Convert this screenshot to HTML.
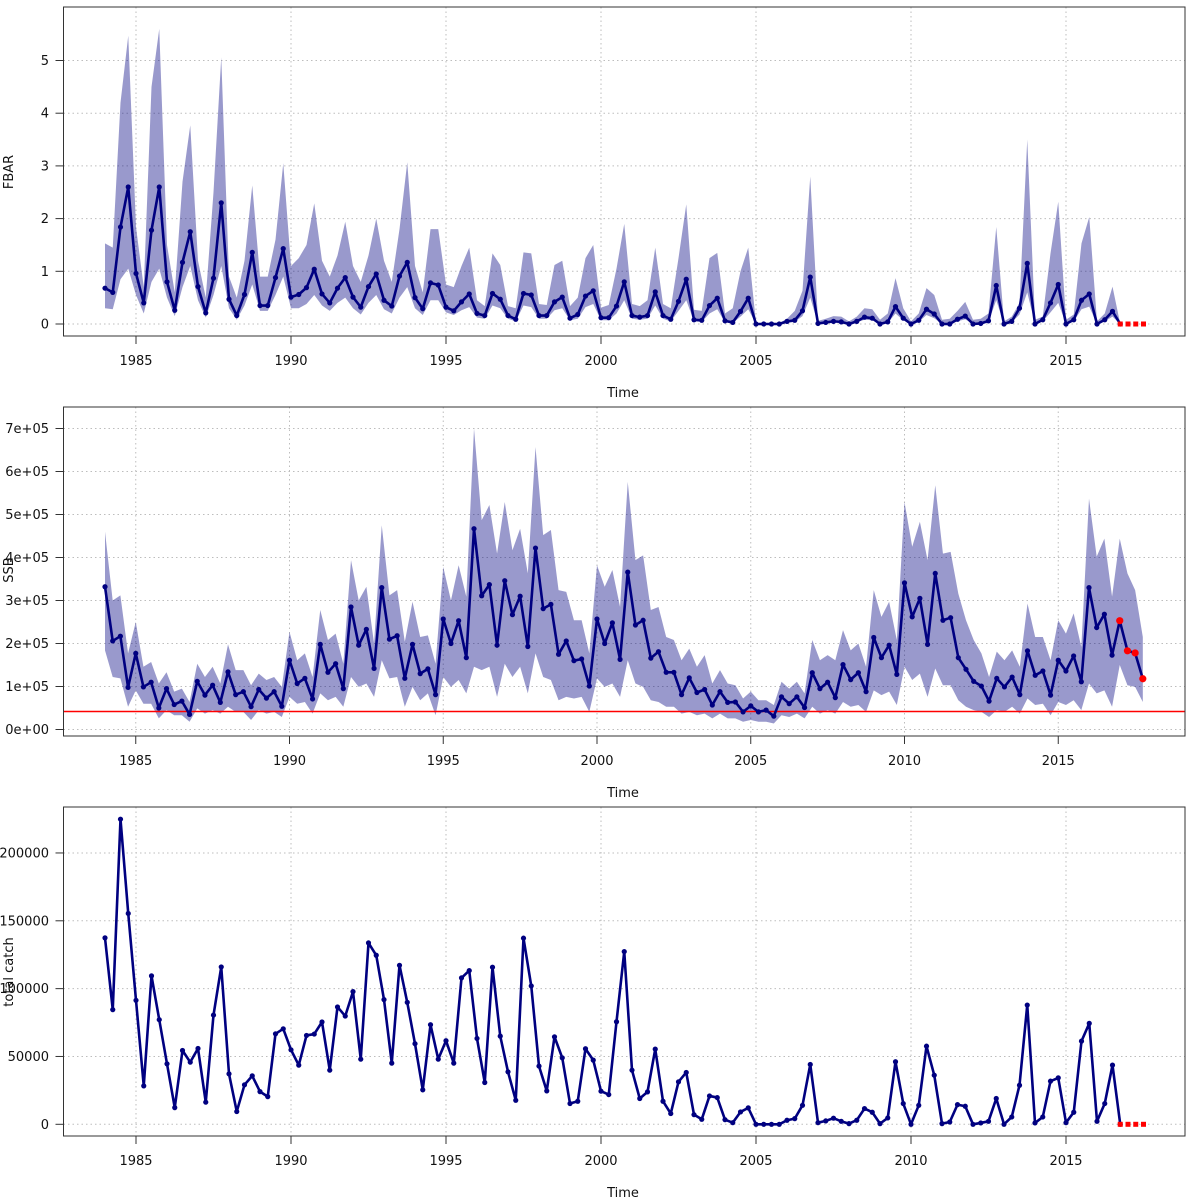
<!DOCTYPE html>
<html><head><meta charset="utf-8"><style>
html,body{margin:0;padding:0;background:#fff;}
svg{display:block;font-family:"DejaVu Sans","Liberation Sans",sans-serif;}
</style></head>
<body>
<svg id="chart" width="1200" height="1200" viewBox="0 0 1200 1200" xmlns="http://www.w3.org/2000/svg"></svg>
<script>
// ---------- data ----------
const startYear = 1984;
const xTickYears = [1985, 1990, 1995, 2000, 2005, 2010, 2015];

const fbarTicks = [0, 1, 2, 3, 4, 5];
const fbarValues = [0.68,0.60,1.84,2.60,0.96,0.40,1.78,2.60,0.80,0.26,1.17,1.75,0.71,0.21,0.87,2.30,0.47,0.16,0.56,1.36,0.35,0.35,0.88,1.43,0.51,0.56,0.69,1.04,0.57,0.40,0.68,0.88,0.51,0.32,0.71,0.95,0.45,0.34,0.91,1.17,0.50,0.29,0.78,0.74,0.32,0.25,0.42,0.57,
0.20,0.16,0.58,0.47,0.16,0.09,0.58,0.55,0.16,0.16,0.42,0.51,0.11,0.18,0.53,0.63,0.12,0.12,0.34,0.80,0.16,0.13,0.16,0.61,0.16,0.09,0.43,0.85,0.08,0.07,0.35,0.49,0.06,0.03,0.24,0.49,0,0,0,0,0.05,0.07,0.25,0.89,0.01,0.03,0.05,
0.04,0.0,0.05,0.13,0.11,0.0,0.04,0.33,0.11,0.0,0.07,0.28,0.19,0,0,0.09,0.15,0,0.01,0.06,0.73,0,0.05,0.30,1.15,0,0.08,0.40,0.75,0,0.08,0.45,0.57,0,0.08,0.24,0];
const fbarUpper = [1.53,1.45,4.2,5.47,1.84,0.7,4.5,5.6,1.5,0.6,2.7,3.77,1.2,0.5,2.5,5.06,0.9,0.5,1.2,2.63,0.9,0.9,1.6,3.05,1.1,1.25,1.5,2.29,1.2,0.9,1.3,1.94,1.1,0.8,1.3,2.0,1.2,0.8,1.8,3.07,1.1,0.6,1.8,1.8,0.75,0.7,1.1,1.45,
0.45,0.34,1.34,1.12,0.34,0.3,1.36,1.34,0.38,0.36,1.12,1.2,0.34,0.5,1.25,1.5,0.31,0.36,1.05,1.9,0.38,0.34,0.45,1.45,0.38,0.3,1.25,2.27,0.27,0.25,1.25,1.35,0.2,0.3,1.0,1.45,0.02,0.02,0.02,0.02,0.1,0.25,0.63,2.8,0.06,0.1,0.15,
0.14,0.05,0.14,0.3,0.28,0.08,0.2,0.87,0.3,0.05,0.2,0.68,0.55,0.08,0.1,0.25,0.42,0.08,0.1,0.2,1.84,0.05,0.14,0.4,3.5,0.08,0.14,1.34,2.32,0.08,0.18,1.53,2.03,0.05,0.2,0.71,0.0];
const fbarLower = [0.30,0.28,0.85,1.05,0.55,0.20,0.80,1.05,0.50,0.15,0.70,1.10,0.45,0.12,0.55,1.10,0.30,0.08,0.35,0.75,0.25,0.25,0.55,0.90,0.30,0.30,0.38,0.55,0.35,0.25,0.40,0.50,0.30,0.18,0.40,0.55,0.28,0.20,0.50,0.70,0.30,0.17,0.45,0.45,0.22,0.17,0.26,0.32,
0.12,0.10,0.35,0.30,0.10,0.05,0.35,0.32,0.10,0.10,0.26,0.30,0.07,0.10,0.32,0.38,0.07,0.07,0.20,0.45,0.10,0.08,0.10,0.35,0.10,0.05,0.25,0.45,0.05,0.04,0.20,0.28,0.03,0.02,0.14,0.28,0,0,0,0,0.02,0.04,0.15,0.50,0.005,0.02,0.03,
0.02,0,0.03,0.08,0.07,0,0.02,0.2,0.07,0,0.04,0.17,0.11,0,0,0.05,0.09,0,0.005,0.04,0.45,0,0.03,0.18,0.6,0,0.05,0.22,0.4,0,0.05,0.28,0.33,0,0.05,0.14,0];
const fbarForecast = [0, 0, 0, 0];

const ssbTicks = [0, 1, 2, 3, 4, 5, 6, 7];
const ssbTickLabels = ["0e+00","1e+05","2e+05","3e+05","4e+05","5e+05","6e+05","7e+05"];
const ssbValues = [3.32,2.06,2.17,0.98,1.77,0.99,1.10,0.50,0.95,0.58,0.66,0.35,1.12,0.80,1.03,0.63,1.34,0.81,0.88,0.53,0.93,0.73,0.88,0.54,1.61,1.07,1.19,0.71,1.98,1.33,1.53,0.95,2.85,1.96,2.33,1.42,3.30,2.10,2.18,1.19,1.98,1.30,1.41,0.81,2.57,2.00,2.53,1.67,
4.67,3.11,3.37,1.96,3.46,2.67,3.10,1.93,4.22,2.81,2.91,1.75,2.06,1.60,1.64,1.01,2.57,2.00,2.48,1.63,3.66,2.43,2.54,1.66,1.81,1.33,1.33,0.81,1.20,0.86,0.93,0.57,0.88,0.63,0.64,0.41,0.55,0.41,0.45,0.31,0.76,0.60,0.76,0.51,1.32,0.95,1.10,0.74,
1.51,1.16,1.32,0.88,2.14,1.67,1.96,1.28,3.41,2.62,3.05,1.98,3.63,2.54,2.60,1.67,1.40,1.12,1.01,0.66,1.19,0.99,1.22,0.81,1.83,1.26,1.36,0.80,1.61,1.36,1.71,1.11,3.30,2.37,2.68,1.73,2.53,1.83,1.78,1.18];
const ssbUpper = [4.6,3.0,3.12,1.77,2.5,1.46,1.57,1.07,1.33,0.88,0.95,0.64,1.53,1.22,1.46,1.07,1.98,1.38,1.38,1.03,1.30,1.15,1.22,0.99,2.27,1.61,1.77,1.22,2.78,2.08,2.23,1.53,3.94,3.0,3.32,2.0,4.75,3.12,3.24,2.04,2.97,2.15,2.19,1.53,3.78,3.0,3.82,3.09,
7.0,4.87,5.22,4.09,5.29,4.17,4.67,3.63,6.57,4.52,4.64,3.24,3.2,2.54,2.54,1.77,3.82,3.32,3.71,2.85,5.76,3.94,4.05,2.78,2.85,2.15,2.08,1.61,1.88,1.46,1.73,1.07,1.38,1.07,1.03,0.72,0.88,0.68,0.68,0.57,1.11,0.95,1.11,0.84,2.08,1.61,1.73,1.61,
2.31,1.84,2.0,1.46,3.24,2.62,2.97,2.08,5.29,4.25,4.83,3.94,5.68,4.09,4.13,3.16,2.54,2.08,1.77,1.22,1.81,1.61,1.84,1.46,2.93,2.15,2.15,1.61,2.54,2.23,2.70,1.92,5.37,4.02,4.44,3.09,4.44,3.63,3.24,2.15];
const ssbLower = [1.84,1.22,1.19,0.53,0.91,0.60,0.60,0.26,0.45,0.33,0.33,0.18,0.49,0.37,0.45,0.37,0.53,0.41,0.41,0.22,0.45,0.37,0.41,0.29,0.76,0.60,0.64,0.37,0.84,0.68,0.76,0.53,1.22,0.99,1.07,0.76,1.61,1.19,1.22,0.53,0.99,0.68,0.84,0.33,1.22,0.99,1.15,0.84,
1.46,1.38,1.46,0.76,1.53,1.22,1.46,0.84,1.77,1.22,1.15,0.68,0.76,0.72,0.76,0.41,1.19,0.99,1.07,0.76,1.61,1.07,0.99,0.68,0.64,0.53,0.53,0.37,0.41,0.33,0.37,0.26,0.37,0.26,0.26,0.18,0.22,0.18,0.18,0.14,0.33,0.29,0.37,0.26,0.53,0.37,0.45,0.37,
0.64,0.53,0.57,0.41,0.91,0.80,0.88,0.57,1.46,1.15,1.30,0.76,1.42,1.03,1.03,0.68,0.53,0.45,0.41,0.29,0.45,0.41,0.53,0.37,0.72,0.57,0.60,0.33,0.64,0.57,0.68,0.45,1.07,0.84,0.91,0.53,1.50,1.03,0.99,0.64];
const ssbForecastStart = 132;
const ssbRefPoint = 0.42;

const catchTicks = [0, 50000, 100000, 150000, 200000];
const catchValues = [137.4,84.5,224.9,155.4,91.4,28.3,109.4,77.1,44.6,12.3,54.4,45.8,55.9,16.3,80.5,116.0,37.2,9.4,29.1,35.7,24.1,20.4,66.7,70.4,54.9,43.6,65.5,66.5,75.4,39.9,86.5,79.8,97.8,48.0,133.7,124.6,91.9,45.1,117.2,89.9,59.4,25.4,73.4,48.0,61.6,45.1,107.9,113.3,
63.3,30.8,115.8,65.0,38.7,17.7,137.2,102.0,42.9,24.6,64.5,49.0,15.3,17.0,55.7,47.3,24.4,21.9,75.6,127.3,39.9,19.0,23.9,55.4,17.0,7.9,31.3,38.2,7.1,3.7,20.9,19.7,3.4,1.2,9.1,12.1,0,0,0,0,3.0,4.2,14.0,44.1,1.2,2.5,4.5,
2.2,0.5,3.0,11.6,8.9,0.5,4.7,46.1,15.3,0,14.0,57.6,36.2,0.5,1.7,14.5,13.3,0,1.0,2.2,19.0,0,5.4,28.8,87.9,1.0,5.4,31.8,34.2,1.2,8.9,61.3,74.4,2.2,15.3,43.6,0];
const catchForecast = [0, 0, 0, 0];

// ---------- drawing ----------
const NS = "http://www.w3.org/2000/svg";
const svg = document.getElementById("chart");
const NAVY = "#000080";
const BAND = "rgba(0,0,128,0.4)";

function mk(tag, attrs, parent) {
  const el = document.createElementNS(NS, tag);
  for (const k in attrs) el.setAttribute(k, attrs[k]);
  (parent || svg).appendChild(el);
  return el;
}
function tAt(i) { return startYear + i * 0.25; }

function drawPanel(cfg) {
  const g = mk("g", {});
  
  
  const L = 63.5, R = 1185, T = cfg.top, B = cfg.top + 329;
  const xs = t => 105 + (t - startYear) * cfg.pxYear;
  const ys = v => cfg.y0 - v * cfg.pxUnit;

  const grid = mk("g", {stroke: "#bdbdbd", "stroke-width": 1, "stroke-dasharray": "1.5,3"}, g);
  
  
  xTickYears.forEach(y => mk("line", {x1: xs(y), x2: xs(y), y1: T, y2: B}, grid));
  cfg.yTicks.forEach(v => mk("line", {x1: L, x2: R, y1: ys(v), y2: ys(v)}, grid));

  if (cfg.upper) {
    let d = "";
    cfg.upper.forEach((v, i) => { d += (i ? "L" : "M") + xs(tAt(i)).toFixed(2) + "," + ys(v).toFixed(2); });
    for (let i = cfg.lower.length - 1; i >= 0; i--) d += "L" + xs(tAt(i)).toFixed(2) + "," + ys(cfg.lower[i]).toFixed(2);
    const band = mk("path", {d: d + "Z", fill: BAND, stroke: "none"}, g);
    
    
  }

  if (cfg.ref !== undefined) {
    const rl = mk("line", {x1: L, x2: R, y1: ys(cfg.ref), y2: ys(cfg.ref), stroke: "#ff0000", "stroke-width": 1.5}, g);
    
    
  }

  const pts = cfg.values.map((v, i) => xs(tAt(i)).toFixed(2) + "," + ys(v).toFixed(2)).join(" ");
  const line = mk("polyline", {points: pts, fill: "none", stroke: NAVY, "stroke-width": 2.6, "stroke-linejoin": "round"}, g);
  
  
  cfg.values.forEach((v, i) => {
    const c = mk("circle", {cx: xs(tAt(i)), cy: ys(v), r: 2.6, fill: NAVY}, g);
    
    
  });

  if (cfg.forecast) {
    const s = cfg.forecastStart;
    cfg.forecast.forEach((v, k) => {
      const x = xs(tAt(s + k)), y = ys(v);
      const r = mk("rect", {x: x - 2.5, y: y - 2.5, width: 5, height: 5, fill: "#ff0000"}, g);
      
      
    });
  }
  if (cfg.redFrom !== undefined) {
    for (let i = cfg.redFrom; i < cfg.values.length; i++) {
      const c = mk("circle", {cx: xs(tAt(i)), cy: ys(cfg.values[i]), r: 3.6, fill: "#ff0000"}, g);
      
      
    }
  }

  const box = mk("rect", {x: L, y: T, width: R - L, height: B - T, fill: "none", stroke: "#333", "stroke-width": 1}, g);
  
  

  xTickYears.forEach(y => {
    mk("line", {x1: xs(y), x2: xs(y), y1: B, y2: B + 8, stroke: "#333", "stroke-width": 1}, g);
    const t = mk("text", {x: xs(y), y: B + 29, "text-anchor": "middle", "font-size": 13, fill: "#111"}, g);
    t.textContent = y;
    
    
  });
  const xt = mk("text", {x: 623, y: B + 61, "text-anchor": "middle", "font-size": 13, fill: "#111"}, g);
  xt.textContent = "Time";
  
  

  cfg.yTicks.forEach((v, k) => {
    mk("line", {x1: L - 8, x2: L, y1: ys(v), y2: ys(v), stroke: "#333", "stroke-width": 1}, g);
    const t = mk("text", {x: 49, y: ys(v) + 4.5, "text-anchor": "end", "font-size": 13, fill: "#111"}, g);
    t.textContent = cfg.yLabels ? cfg.yLabels[k] : v;
    
    
  });
  const yt = mk("text", {x: 13, y: cfg.titleY, "text-anchor": "middle", "font-size": 13, fill: "#111", transform: "rotate(-90 13 " + cfg.titleY + ")"}, g);
  yt.textContent = cfg.title;
  
  
}

drawPanel({name: "fbar", top: 7, pxYear: 31, y0: 324, pxUnit: 52.7, yTicks: fbarTicks,
  upper: fbarUpper, lower: fbarLower, values: fbarValues, forecast: fbarForecast, forecastStart: 131,
  title: "FBAR", titleY: 172});
drawPanel({name: "ssb", top: 407, pxYear: 30.75, y0: 729.5, pxUnit: 43.0, yTicks: ssbTicks, yLabels: ssbTickLabels,
  upper: ssbUpper, lower: ssbLower, values: ssbValues, redFrom: ssbForecastStart, ref: ssbRefPoint,
  title: "SSB", titleY: 570});
drawPanel({name: "catch", top: 807, pxYear: 31, y0: 1124.3, pxUnit: 1.3567 / 1000, yTicks: catchTicks,
  values: catchValues.map(v => v * 1000), forecast: catchForecast, forecastStart: 131,
  title: "total catch", titleY: 972});
</script>
</body></html>
